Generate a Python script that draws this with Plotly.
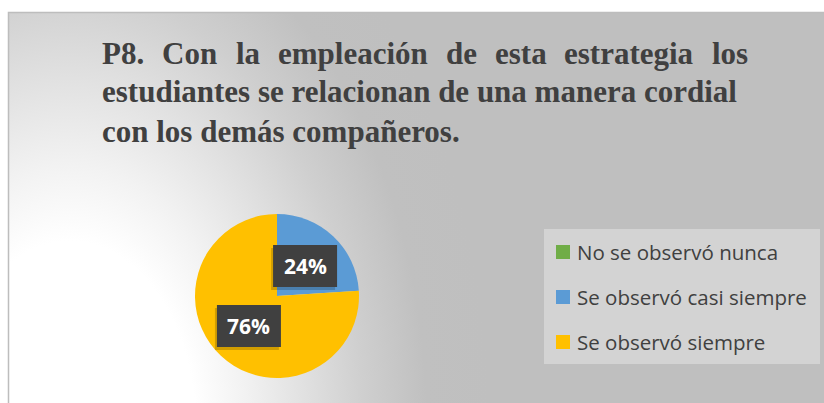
import math
import base64
import plotly.graph_objects as go

W, H = 824, 403

# ---- data ----
categories = ["No se observó nunca", "Se observó casi siempre", "Se observó siempre"]
values = [0, 24, 76]
colors = ["#70AD47", "#5B9BD5", "#FFC000"]
title_line1_words = ["P8.", "Con", "la", "empleación", "de", "esta", "estrategia", "los"]
title_line2 = "estudiantes se relacionan de una manera cordial"
title_line3 = "con los demás compañeros."

# ---- helpers ----
def px(x):
    return x / W

def py(y):
    return 1 - y / H

# ---- background (radial gradient frame) ----
svg = f'''<svg xmlns="http://www.w3.org/2000/svg" width="{W}" height="{H}" viewBox="0 0 {W} {H}" preserveAspectRatio="none">
<defs><radialGradient id="g" gradientUnits="userSpaceOnUse" cx="70" cy="430" r="420"
 gradientTransform="translate(70 430) scale(1 1.5) translate(-70 -430)">
<stop offset="0.30" stop-color="#ffffff"/>
<stop offset="0.42" stop-color="#f2f2f2"/>
<stop offset="0.55" stop-color="#e2e2e2"/>
<stop offset="0.70" stop-color="#cfcfcf"/>
<stop offset="0.85" stop-color="#c0c0c0"/>
<stop offset="1" stop-color="#bfbfbf"/></radialGradient></defs>
<rect x="0" y="0" width="{W}" height="{H}" fill="#ffffff"/>
<rect x="8.5" y="12.5" width="830" height="400" fill="url(#g)" stroke="#bdbdbd" stroke-width="1.5"/>
</svg>'''
bg_src = "data:image/svg+xml;base64," + base64.b64encode(svg.encode()).decode()

# ---- pie geometry ----
CX, CY, R = 277, 296, 82
fig = go.Figure()
fig.add_trace(go.Pie(
    labels=categories, values=values, sort=False, direction="clockwise", rotation=0,
    marker=dict(colors=colors, line=dict(width=0)),
    textinfo="none", hoverinfo="label+percent", showlegend=False,
    domain=dict(x=[px(CX - R), px(CX + R)], y=[py(CY + R), py(CY - R)]),
))

annotations = []
shapes = []

# legend background
shapes.append(dict(type="rect", xref="paper", yref="paper", x0=px(544), x1=px(820),
                   y0=py(364), y1=py(229), fillcolor="#d3d3d3", line=dict(width=0), layer="below"))

# data labels (dark boxes) computed from the values
total = sum(values)
cum = 0
BW, BH = 64, 42
for v in values:
    if v > 0:
        theta = (cum + v / 2) / total * 2 * math.pi
        lx = CX + 0.5 * R * math.sin(theta)
        ly = CY - 0.5 * R * math.cos(theta)
        pct = f"{round(v / total * 100)}%"
        shapes.append(dict(type="rect", xref="paper", yref="paper",
                           x0=px(lx - BW / 2 - 2), x1=px(lx + BW / 2 - 2),
                           y0=py(ly + BH / 2 + 3), y1=py(ly - BH / 2 + 3),
                           fillcolor="rgba(0,0,0,0.18)", line=dict(width=0)))
        shapes.append(dict(type="rect", xref="paper", yref="paper",
                           x0=px(lx - BW / 2), x1=px(lx + BW / 2),
                           y0=py(ly + BH / 2), y1=py(ly - BH / 2),
                           fillcolor="#404040", line=dict(width=0)))
        annotations.append(dict(x=px(lx), y=py(ly), xref="paper", yref="paper",
                                text=f"<b>{pct}</b>", showarrow=False,
                                xanchor="center", yanchor="middle",
                                font=dict(family="Open Sans", size=21, color="#ffffff")))
    cum += v

# title
TF = dict(family="Liberation Serif", size=31, color="#404040")
word_x = [100, 160.3, 233.5, 275.7, 443.6, 492.7, 562.4, 709.6]
for wd, x in zip(title_line1_words, word_x):
    annotations.append(dict(x=px(x), y=py(53), xref="paper", yref="paper", xanchor="left",
                            yanchor="middle", text=f"<b>{wd}</b>", showarrow=False, font=TF))
annotations.append(dict(x=px(100), y=py(92), xref="paper", yref="paper", xanchor="left",
                        yanchor="middle", text=f"<b>{title_line2}</b>", showarrow=False, font=TF))
annotations.append(dict(x=px(100), y=py(131), xref="paper", yref="paper", xanchor="left",
                        yanchor="middle", text=f"<b>{title_line3}</b>", showarrow=False, font=TF))

# legend entries (built from categories/colors)
row_y = [252, 297, 342]
for cat, col, ry in zip(categories, colors, row_y):
    shapes.append(dict(type="rect", xref="paper", yref="paper", x0=px(556), x1=px(570),
                       y0=py(ry + 7), y1=py(ry - 7), fillcolor=col, line=dict(width=0)))
    annotations.append(dict(x=px(575), y=py(ry), xref="paper", yref="paper", xanchor="left",
                            yanchor="middle", text=cat, showarrow=False,
                            font=dict(family="Open Sans", size=20.5, color="#404040")))

fig.update_layout(
    width=W, height=H, margin=dict(l=0, r=0, t=0, b=0),
    paper_bgcolor="#ffffff", plot_bgcolor="rgba(0,0,0,0)",
    images=[dict(source=bg_src, xref="paper", yref="paper", x=0, y=1, sizex=1, sizey=1,
                 xanchor="left", yanchor="top", sizing="stretch", layer="below")],
    annotations=annotations, shapes=shapes, showlegend=False,
)

fig.write_html("out.html", config={"displayModeBar": False},
               post_script="document.body.style.margin='0';")
